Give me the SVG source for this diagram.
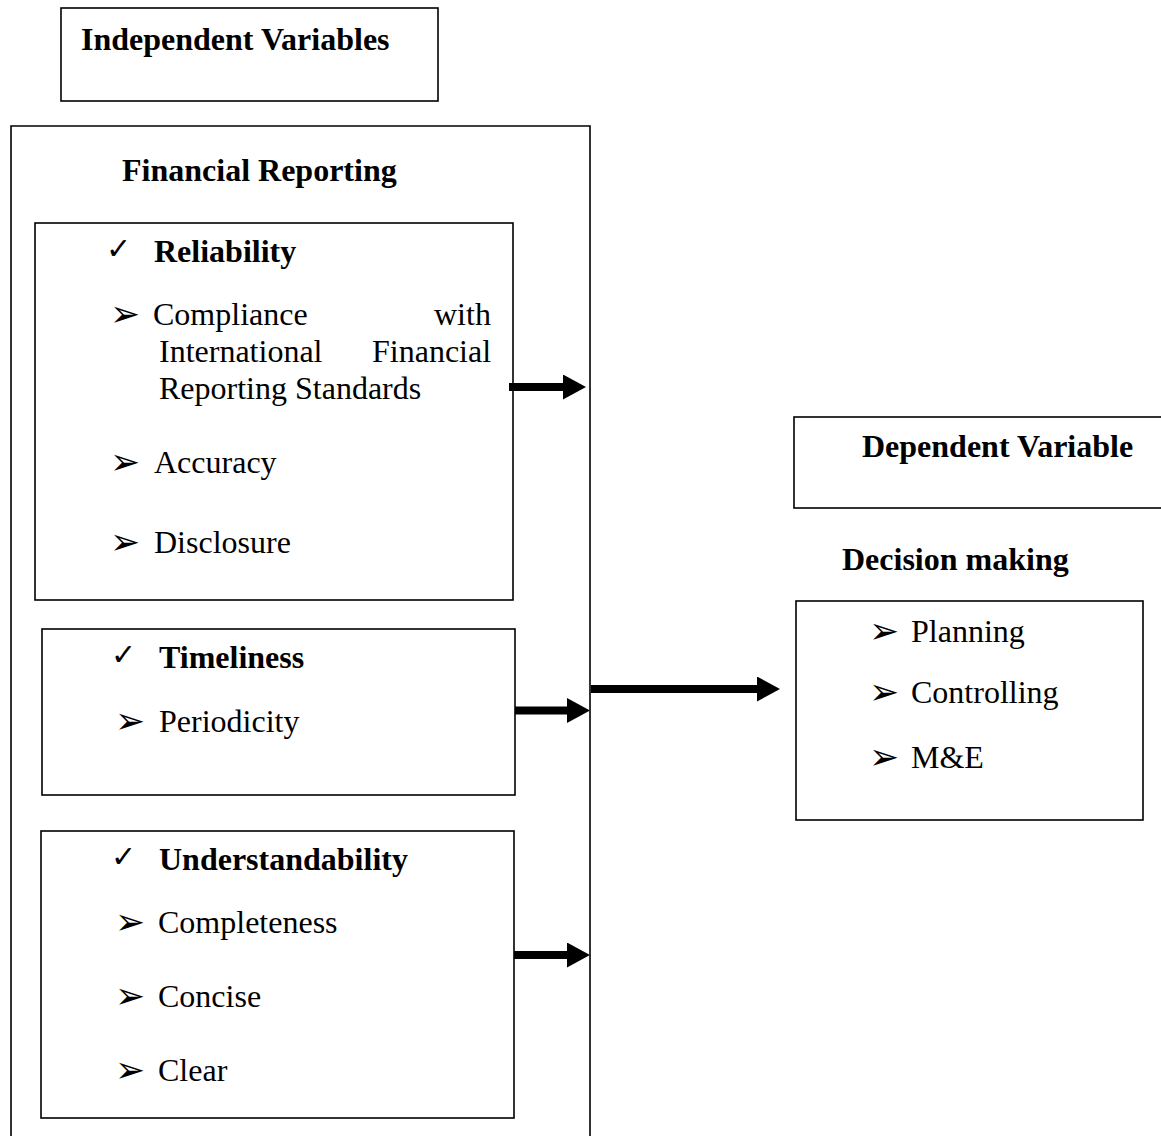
<svg xmlns="http://www.w3.org/2000/svg" width="1161" height="1136" viewBox="0 0 1161 1136">
<style>
  .box { fill: none; stroke: #000; stroke-width: 1.6; }
  .t { font-family: "Liberation Serif", "Times New Roman", serif; font-size: 32px; fill: #000; }
  .b { font-weight: bold; }
  .chk { font-family: "DejaVu Sans", sans-serif; font-size: 30px; fill: #000; }
  .sym { font-family: "DejaVu Sans", sans-serif; font-size: 36px; fill: #000; }
  .arr { fill: none; stroke: #000; stroke-width: 8; }
</style>
<defs>
  <marker id="ah" markerUnits="userSpaceOnUse" markerWidth="24" markerHeight="26" refX="1" refY="12.5" orient="auto">
    <path d="M0,0 L23,12.5 L0,25 z" fill="#000"/>
  </marker>
</defs>
<rect width="1161" height="1136" fill="#fff"/>

<g id="independent-variables">
  <rect class="box" x="61" y="8" width="377" height="93"/>
  <text class="t b" x="81" y="50">Independent Variables</text>
</g>

<g id="financial-reporting">
  <path class="box" d="M11,1140 V126 H590 V1140"/>
  <text class="t b" x="122" y="181">Financial Reporting</text>
</g>

<g id="reliability">
  <rect class="box" x="35" y="223" width="478" height="377"/>
  <text class="chk" x="106" y="259">✓</text>
  <text class="t b" x="154" y="262">Reliability</text>
  <text class="sym" x="110" y="326">➢</text>
  <text class="t" x="153" y="325">Compliance</text>
  <text class="t" x="434" y="325">with</text>
  <text class="t" x="159" y="362">International</text>
  <text class="t" x="372" y="362">Financial</text>
  <text class="t" x="159" y="399">Reporting Standards</text>
  <text class="sym" x="110" y="474">➢</text>
  <text class="t" x="154" y="473">Accuracy</text>
  <text class="sym" x="110" y="554">➢</text>
  <text class="t" x="154" y="553">Disclosure</text>
</g>

<g id="timeliness">
  <rect class="box" x="42" y="629" width="473" height="166"/>
  <text class="chk" x="111" y="665">✓</text>
  <text class="t b" x="159" y="668">Timeliness</text>
  <text class="sym" x="115" y="733">➢</text>
  <text class="t" x="159" y="732">Periodicity</text>
</g>

<g id="understandability">
  <rect class="box" x="41" y="831" width="473" height="287"/>
  <text class="chk" x="111" y="867">✓</text>
  <text class="t b" x="159" y="870">Understandability</text>
  <text class="sym" x="115" y="934">➢</text>
  <text class="t" x="158" y="933">Completeness</text>
  <text class="sym" x="115" y="1008">➢</text>
  <text class="t" x="158" y="1007">Concise</text>
  <text class="sym" x="115" y="1082">➢</text>
  <text class="t" x="158" y="1081">Clear</text>
</g>

<g id="dependent-variable">
  <rect class="box" x="794" y="417" width="400" height="91"/>
  <text class="t b" x="862" y="457">Dependent Variable</text>
</g>

<g id="decision-making">
  <text class="t b" x="842" y="570">Decision making</text>
  <rect class="box" x="796" y="601" width="347" height="219"/>
  <text class="sym" x="869" y="643">➢</text>
  <text class="t" x="911" y="642">Planning</text>
  <text class="sym" x="869" y="704">➢</text>
  <text class="t" x="911" y="703">Controlling</text>
  <text class="sym" x="869" y="769">➢</text>
  <text class="t" x="911" y="768">M&amp;E</text>
</g>

<g id="connectors">
  <path class="arr" d="M509,387 H564" marker-end="url(#ah)"/>
  <path class="arr" d="M515,710.5 H568" marker-end="url(#ah)"/>
  <path class="arr" d="M514,955 H568" marker-end="url(#ah)"/>
  <path class="arr" d="M591,689 H758" marker-end="url(#ah)"/>
</g>
</svg>
